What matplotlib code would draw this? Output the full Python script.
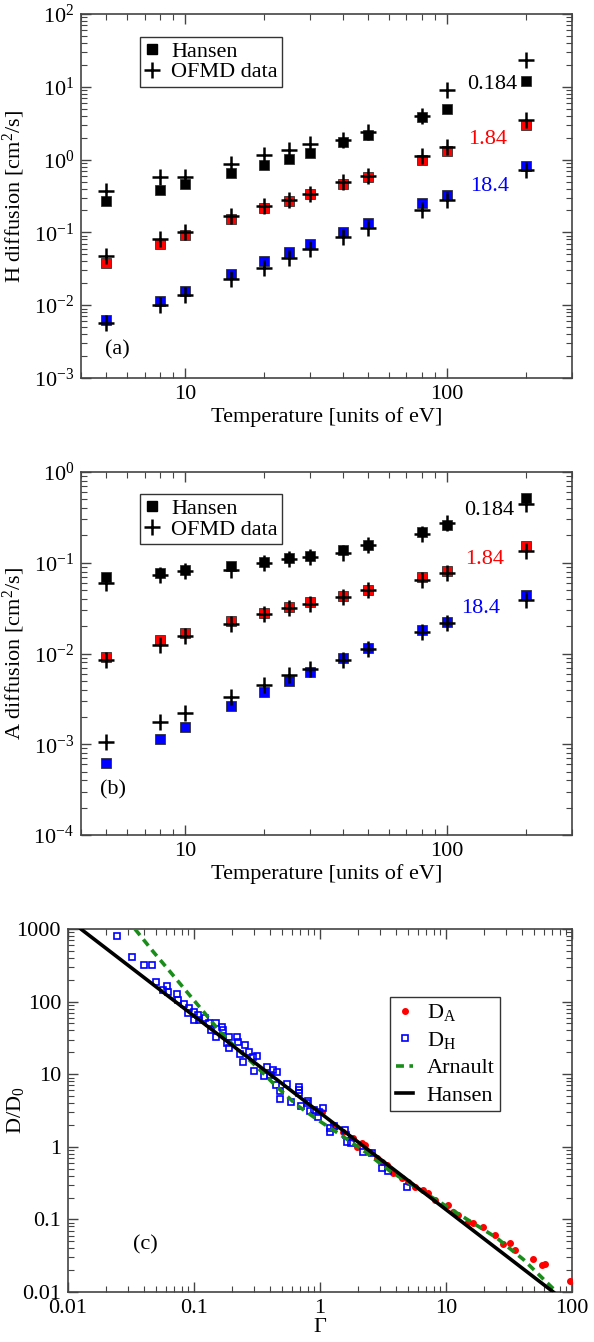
import matplotlib
matplotlib.use("Agg")
import matplotlib.pyplot as plt
from matplotlib.ticker import FixedLocator, LogLocator, NullFormatter, FixedFormatter
from matplotlib.lines import Line2D

plt.rcParams['font.family'] = ['Liberation Serif', 'DejaVu Serif']
plt.rcParams['mathtext.fontset'] = 'custom'
plt.rcParams['mathtext.rm'] = 'Liberation Serif'
plt.rcParams['mathtext.it'] = 'Liberation Serif:italic'
plt.rcParams['axes.unicode_minus'] = False

# ---------------- data ----------------
T = [5, 8, 10, 15, 20, 25, 30, 40, 50, 80, 100, 200]
density_labels = ["0.184", "1.84", "18.4"]

# panel (a): H diffusion [cm^2/s]
H_hansen_0184 = [0.266, 0.388, 0.469, 0.657, 0.836, 1.02, 1.24, 1.73, 2.20, 3.85, 4.94, 12.1]
H_ofmd_0184 = [0.368, 0.58, 0.58, 0.88, 1.17, 1.37, 1.64, 1.88, 2.37, 3.92, 8.9, 23.4]
H_hansen_184 = [0.0376, 0.070, 0.093, 0.151, 0.213, 0.274, 0.332, 0.469, 0.58, 1.0, 1.33, 3.01]
H_ofmd_184 = [0.0473, 0.080, 0.101, 0.167, 0.229, 0.277, 0.332, 0.489, 0.59, 1.11, 1.49, 3.45]
H_hansen_184b = [0.0063, 0.0115, 0.0157, 0.0272, 0.0405, 0.0537, 0.0686, 0.101, 0.133, 0.25, 0.324, 0.81]
H_ofmd_184b = [0.00566, 0.0101, 0.0138, 0.0227, 0.0328, 0.045, 0.0585, 0.0863, 0.1135, 0.202, 0.283, 0.713]

# panel (b): A diffusion [cm^2/s]
A_hansen_0184 = [0.0702, 0.0764, 0.0832, 0.092, 0.1028, 0.112, 0.1187, 0.138, 0.157, 0.22, 0.26, 0.513]
A_ofmd_0184 = [0.0593, 0.0733, 0.0818, 0.083, 0.100, 0.110, 0.117, 0.127, 0.157, 0.207, 0.277, 0.444]
A_hansen_184 = [0.00922, 0.0141, 0.0167, 0.023, 0.0277, 0.0323, 0.0367, 0.0434, 0.050, 0.0702, 0.0818, 0.153]
A_ofmd_184 = [0.00848, 0.0124, 0.0156, 0.0211, 0.0272, 0.0315, 0.0351, 0.0422, 0.050, 0.0646, 0.0777, 0.136]
A_hansen_184b = [0.000616, 0.00115, 0.00156, 0.00266, 0.00379, 0.00501, 0.0063, 0.00885, 0.0114, 0.0182, 0.0224, 0.0441]
A_ofmd_184b = [0.00107, 0.00174, 0.00223, 0.00334, 0.0045, 0.0058, 0.0067, 0.00848, 0.0111, 0.0174, 0.0219, 0.0389]

# panel (c): reduced diffusion D/D0 vs Gamma
DH_gamma = [0.0243, 0.0324, 0.0404, 0.0465, 0.0499, 0.0614, 0.0625, 0.0564, 0.0736, 0.075,
            0.0838, 0.0918, 0.0902, 0.100, 0.108, 0.100, 0.122, 0.110, 0.132, 0.150,
            0.136, 0.166, 0.150, 0.171, 0.191, 0.182, 0.218, 0.225, 0.191, 0.254,
            0.232, 0.247, 0.275, 0.292, 0.314, 0.299, 0.378, 0.426, 0.453, 0.360,
            0.401, 0.448, 0.550, 0.681, 0.681, 0.681, 0.482, 0.589, 0.807, 0.703,
            0.834, 1.06, 0.989, 0.959, 1.19, 1.29, 1.20, 1.58, 1.61, 1.63,
            0.482, 0.783, 0.895, 1.75, 2.21, 2.57, 3.09, 3.48, 4.88]
DH_value = [802, 416, 319, 319, 185, 164, 137, 145, 127, 105,
            92.7, 80.9, 70.3, 72.6, 65.3, 55.8, 58.9, 55.8, 50.2, 51.2,
            40.6, 44.3, 32.9, 40.6, 32.9, 26.7, 32.9, 28.1, 22.8, 25.2,
            19.0, 14.6, 20.4, 17.4, 18.0, 11.2, 12.4, 11.4, 10.8, 9.53,
            9.75, 7.10, 7.26, 6.73, 6.05, 5.56, 5.93, 4.18, 4.28, 3.68,
            3.14, 3.39, 3.04, 2.59, 1.83, 1.94, 1.61, 1.70, 1.45, 1.17,
            4.51, 4.06, 3.21, 1.14, 0.857, 0.830, 0.506, 0.469, 0.277]

DA_gamma = [1.03, 1.32, 1.53, 1.84, 2.14, 2.28, 1.95, 2.49, 2.82, 3.09,
            3.38, 3.82, 4.45, 5.02, 5.68, 6.61, 7.24, 8.18, 10.4, 11.4,
            12.5, 15.0, 16.5, 19.8, 24.5, 28.5, 32.2, 35.3, 48.8, 57.4,
            61.1, 96.4]
DA_value = [3.04, 1.89, 1.61, 1.31, 1.12, 1.06, 1.00, 0.857, 0.693, 0.624,
            0.561, 0.432, 0.368, 0.331, 0.282, 0.254, 0.229, 0.185, 0.158, 0.128,
            0.115, 0.0929, 0.0883, 0.0794, 0.061, 0.0458, 0.0478, 0.0379, 0.0282, 0.0236,
            0.0243, 0.0142]

hansen_gamma = [0.01265, 71.0]
hansen_value = [1000, 0.01]

arnault_gamma = [0.0340, 0.0475, 0.0646, 0.0875, 0.119, 0.161, 0.218, 0.314, 0.453, 0.653,
                 0.942, 1.44, 2.34, 3.60, 5.85, 9.53, 15.5, 25.2, 41.1, 75.5]
arnault_value = [1000, 486, 258, 137, 72.6, 38.5, 22.7, 12.7, 6.73, 3.77,
                 2.40, 1.48, 0.826, 0.462, 0.272, 0.161, 0.0946, 0.0558, 0.0281, 0.01]

xticks_T = [10, 100]
xticklabels_T = ["10", "100"]
c_ticks = [0.01, 0.1, 1, 10, 100, 1000]
c_ticklabels = ["0.01", "0.1", "1", "10", "100", "1000"]

# ---------------- figure ----------------
W, H = 594, 1342
fig = plt.figure(figsize=(W / 100, H / 100), dpi=100)

FS = 16
spine_col = '#444444'
colors = ['black', '#ff0000', '#0000ff']


def ax_rect(l, r, t, b):
    return [l / W, 1 - b / H, (r - l) / W, (b - t) / H]


def style_axes(ax):
    for s in ax.spines.values():
        s.set_color(spine_col)
        s.set_linewidth(1.2)
    ax.tick_params(which='both', direction='in', top=True, right=True,
                   color=spine_col, labelsize=FS)
    ax.tick_params(which='major', length=7, width=1.0, pad=5)
    ax.tick_params(which='minor', length=4, width=0.8)


def diffusion_panel(ax, hansen_sets, ofmd_sets, ylim, ylabel, label_pos, tag, tag_pos, legend_top):
    for hs, os_, c in zip(hansen_sets, ofmd_sets, colors):
        ax.plot(T, hs, 's', ms=6.5, mfc=c, mec='#333333', mew=0.6, ls='none', zorder=3)
        ax.plot(T, os_, '+', ms=11, color='black', mew=1.8, ls='none', zorder=4)
    ax.set_xscale('log')
    ax.set_yscale('log')
    ax.set_xlim(4, 300)
    ax.set_ylim(*ylim)
    ax.xaxis.set_major_locator(FixedLocator(xticks_T))
    ax.xaxis.set_major_formatter(FixedFormatter(xticklabels_T))
    ax.xaxis.set_minor_locator(LogLocator(base=10, subs=range(2, 10), numticks=20))
    ax.xaxis.set_minor_formatter(NullFormatter())
    ax.yaxis.set_major_locator(LogLocator(base=10, numticks=20))
    ax.yaxis.set_minor_locator(LogLocator(base=10, subs=range(2, 10), numticks=20))
    ax.yaxis.set_minor_formatter(NullFormatter())
    style_axes(ax)
    ax.set_xlabel("Temperature [units of eV]", fontsize=FS, labelpad=2)
    ax.set_ylabel(ylabel, fontsize=FS)
    ax.yaxis.set_label_coords(-0.11, 0.5)
    for (x, y), txt, c in zip(label_pos, density_labels, colors):
        ax.text(x, y, txt, color=c, fontsize=FS, ha='center', va='center', transform=ax.transAxes)
    ax.text(tag_pos[0], tag_pos[1], tag, fontsize=FS, ha='center', va='center', transform=ax.transAxes)
    handles = [Line2D([], [], marker='s', ls='none', color='black', ms=6.5),
               Line2D([], [], marker='+', ls='none', color='black', ms=11, mew=1.8)]
    leg = ax.legend(handles, ["Hansen", "OFMD data"], loc='upper left',
                    bbox_to_anchor=(0.12, legend_top), borderaxespad=0, fontsize=FS,
                    fancybox=False, framealpha=1, edgecolor='#333333',
                    handlelength=0.7, handletextpad=0.5, borderpad=0.2, labelspacing=0.0)
    leg.get_frame().set_linewidth(1.0)


ax_a = fig.add_axes(ax_rect(81, 572, 14, 378))
diffusion_panel(ax_a,
                [H_hansen_0184, H_hansen_184, H_hansen_184b],
                [H_ofmd_0184, H_ofmd_184, H_ofmd_184b],
                (1e-3, 1e2), "H diffusion [cm$^2$/s]",
                [(0.837, 0.805), (0.829, 0.654), (0.833, 0.525)],
                "(a)", (0.075, 0.077), 0.937)

ax_b = fig.add_axes(ax_rect(81, 572, 472, 835))
diffusion_panel(ax_b,
                [A_hansen_0184, A_hansen_184, A_hansen_184b],
                [A_ofmd_0184, A_ofmd_184, A_ofmd_184b],
                (1e-4, 1e0), "A diffusion [cm$^2$/s]",
                [(0.831, 0.895), (0.821, 0.758), (0.813, 0.625)],
                "(b)", (0.065, 0.124), 0.939)

ax_c = fig.add_axes(ax_rect(68, 572, 929, 1292))
ax_c.plot(DA_gamma, DA_value, 'o', ms=4, color='#ff0000', mec='#ff0000', ls='none',
          label="D$_\\mathrm{A}$", zorder=3)
ax_c.plot(DH_gamma, DH_value, 's', ms=5, mfc='none', mec='#0000ff', mew=1.2, ls='none',
          label="D$_\\mathrm{H}$", zorder=3)
ax_c.plot(arnault_gamma, arnault_value, color='#1a8c1a', lw=2.6, dashes=(2.2, 1.5),
          label="Arnault", zorder=4)
ax_c.plot(hansen_gamma, hansen_value, color='black', lw=2.6, label="Hansen", zorder=4)
ax_c.set_xscale('log')
ax_c.set_yscale('log')
ax_c.set_xlim(0.01, 100)
ax_c.set_ylim(0.01, 1000)
ax_c.xaxis.set_major_locator(FixedLocator(c_ticks[:5]))
ax_c.xaxis.set_major_formatter(FixedFormatter(c_ticklabels[:5]))
ax_c.yaxis.set_major_locator(FixedLocator(c_ticks))
ax_c.yaxis.set_major_formatter(FixedFormatter(c_ticklabels))
for axis in (ax_c.xaxis, ax_c.yaxis):
    axis.set_minor_locator(LogLocator(base=10, subs=range(2, 10), numticks=20))
    axis.set_minor_formatter(NullFormatter())
style_axes(ax_c)
ax_c.set_xlabel("Γ", fontsize=FS, labelpad=0)
ax_c.set_ylabel("D/D$_0$", fontsize=FS)
ax_c.yaxis.set_label_coords(-0.083, 0.5)
ax_c.text(0.153, 0.129, "(c)", fontsize=FS, ha='center', va='center', transform=ax_c.transAxes)
leg = ax_c.legend(loc='upper left', bbox_to_anchor=(0.639, 0.813), borderaxespad=0,
                  fontsize=FS, fancybox=False, framealpha=1, edgecolor='#333333',
                  handlelength=0.8, handletextpad=0.6, borderpad=0.25, labelspacing=0.3)
leg.get_frame().set_linewidth(1.0)

fig.savefig("out.png", dpi=100)
